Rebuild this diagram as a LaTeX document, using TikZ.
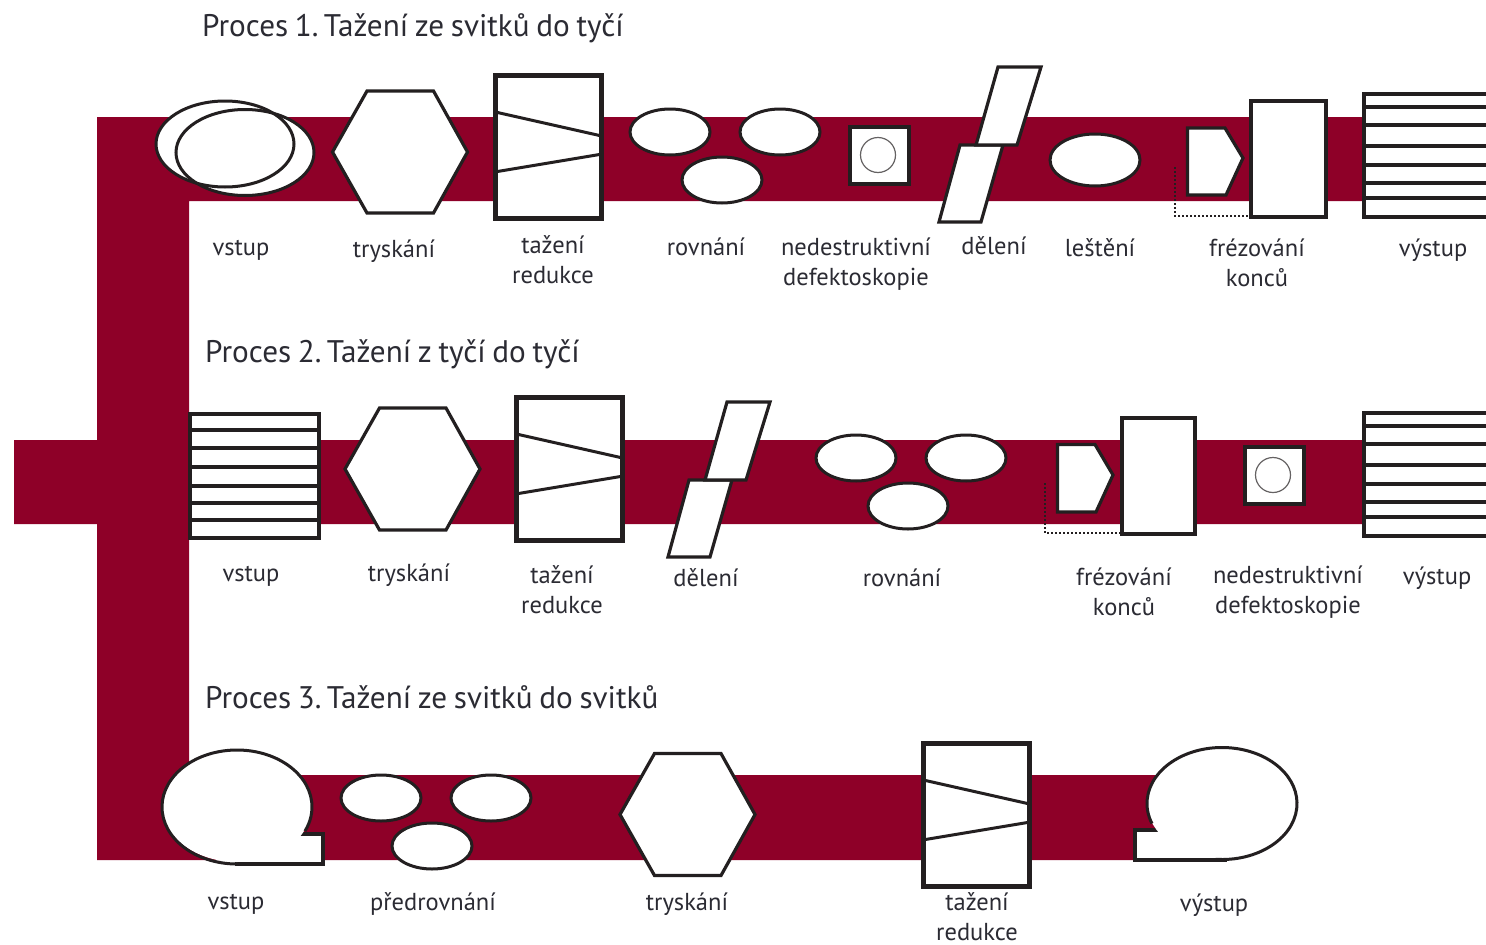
\documentclass[tikz,border=0pt]{standalone}
\usepackage{fontspec}
\setmainfont[WordSpace=0.8]{PT Sans}
\usetikzlibrary{shapes.geometric}
\definecolor{band}{HTML}{8E0028}
\definecolor{ink}{HTML}{231F20}
\definecolor{txt}{HTML}{2B2B33}
\tikzset{
  x=1pt,y=-1pt,
  thick line/.style={draw=ink,line width=4.5pt,fill=white,miter limit=10},
  mid line/.style={draw=ink,line width=3.2pt,fill=white,line join=miter},
  thin line/.style={draw=ink,line width=3pt},
  oval/.style={shape=ellipse,draw=ink,line width=3pt,fill=white,inner sep=0pt,minimum width=80pt,minimum height=46pt},
  lab/.style={text=txt,anchor=base,align=center,inner sep=0pt,font=\fontsize{24.5}{30}\selectfont},
  ttl/.style={text=txt,anchor=base west,inner sep=0pt,font=\fontsize{31.2}{34}\selectfont},
  dots/.style={draw=ink,line width=2pt,dash pattern=on 2pt off 2pt},
}
% hexagon centred on (#1,#2)
\newcommand{\hexshape}[2]{\draw[mid line,shift={(#1,#2)}] (-67.5,0) -- (-33,-61) -- (33.5,-61) -- (67.5,0) -- (33.5,61) -- (-33,61) -- cycle;}
% drawing die: top-left corner (#1,#2)
\newcommand{\dieshape}[2]{\begin{scope}[shift={(#1,#2)}]
  \draw[thick line] (0,0) rectangle (106,143);
  \draw[thin line] (2,37) -- (104,60);
  \draw[thin line] (2,96) -- (104,79);
\end{scope}}
% three ovals
\newcommand{\threeovals}[7]{%
  \node[oval] (#7a) at (#1,#2) {};
  \node[oval] (#7b) at (#3,#4) {};
  \node[oval] (#7c) at (#5,#6) {};}
% cutting
\newcommand{\cutshape}[2]{\begin{scope}[shift={(#1,#2)}]
  \draw[mid line] (-21,78) -- (22,78) -- (0,155) -- (-42,155) -- cycle;
  \draw[mid line] (17,0) -- (60,0) -- (36,78) -- (-5,78) -- cycle;
\end{scope}}
% inspection
\newcommand{\ndtshape}[2]{\begin{scope}[shift={(#1,#2)}]
  \draw[thick line] (0,0) rectangle (59,57);
  \draw[draw=ink!70,line width=1.2pt] (28,28) circle[radius=17.5pt];
\end{scope}}
% bar bundle: left edge (#1), top (#2)
\newcommand{\barsout}[2]{%
  \fill[white] (#1,#2) rectangle (1486,#2+123);
  \draw[thick line,fill=none] (1486,#2) -- (#1,#2) -- (#1,#2+123) -- (1486,#2+123);
  \foreach \dy in {13,31,52,71,89,104} {\draw[draw=ink,line width=4pt] (#1,#2+\dy) -- (1486,#2+\dy);}}
\begin{document}
\begin{tikzpicture}
\useasboundingbox (0,0) rectangle (1486,945);
\fill[white] (0,0) rectangle (1486,945);
% bands
\fill[band] (97,117) -- (1366,117) -- (1366,201) -- (189,201) -- (189,440) -- (1366,440) -- (1366,524) -- (189,524)
  -- (189,775) -- (1160,775) -- (1160,860) -- (97,860) -- (97,524) -- (14,524) -- (14,440) -- (97,440) -- cycle;

% titles
\node[ttl] (t1) at (202,36) {Proces 1.\hspace{-4pt} Tažení ze svitků do tyčí};
\node[ttl] (t2) at (205,362) {Proces 2.\hspace{-4pt} Tažení z tyčí do tyčí};
\node[ttl] (t3) at (205,708) {Proces 3.\hspace{-4pt} Tažení ze svitků do svitků};

% ---------- process 1
\fill[white] (225,144) ellipse[x radius=69pt,y radius=43pt];
\fill[white] (245,152.5) ellipse[x radius=69pt,y radius=43pt];
\node[oval,fill=none,minimum width=138pt,minimum height=86pt] (p1coila) at (225,144) {};
\node[oval,fill=none,minimum width=138pt,minimum height=86pt] (p1coilb) at (245,152.5) {};
\hexshape{400}{152}
\dieshape{495.5}{75.5}
\threeovals{670}{132}{780}{132}{722}{180}{pa}
\ndtshape{850}{127}
\cutshape{981}{67}
\node[oval,minimum width=90pt,minimum height=52pt] (p1pol) at (1095,160) {};
\draw[mid line,line join=miter] (1187.5,128) -- (1225,128) -- (1243,158) -- (1226,195) -- (1187.5,195) -- cycle;
\draw[thick line,line width=4pt] (1251,101) rectangle (1326,217);
\coordinate (d1a) at (1175,167);
\coordinate (d1b) at (1175,216);
\coordinate (d1c) at (1250,216);
\draw[dots] (d1a) -- (d1b) -- (d1c);
\barsout{1364}{94}

\node[lab] (l1a) at (241,255) {vstup};
\node[lab] (l1b) at (394,257) {tryskání};
\node[lab] (l1c) at (553,283) {tažení\\redukce};
\node[lab] (l1d) at (706,255) {rovnání};
\node[lab] (l1e) at (856,285) {nedestruktivní\\defektoskopie};
\node[lab] (l1f) at (994,254) {dělení};
\node[lab] (l1g) at (1100,256) {leštění};
\node[lab] (l1h) at (1257,286) {frézování\\konců};
\node[lab] (l1i) at (1433,256) {výstup};

% ---------- process 2
\draw[thick line] (190,414) rectangle (319,538);
\foreach \yy in {430,448,467,486,503,520} {\draw[draw=ink,line width=4pt] (190,\yy) -- (319,\yy);}
\hexshape{412.5}{469}
\dieshape{516.5}{397.5}
\cutshape{710}{402}
\threeovals{856}{458}{966}{458}{908}{506}{pb}
\draw[mid line] (1057.5,444.5) -- (1095,444.5) -- (1113,475) -- (1096,512) -- (1057.5,512) -- cycle;
\draw[thick line] (1122,418) rectangle (1195,534);
\coordinate (d2a) at (1045,483);
\coordinate (d2b) at (1045,533);
\coordinate (d2c) at (1120,533);
\draw[dots] (d2a) -- (d2b) -- (d2c);
\ndtshape{1245}{447}
\barsout{1364}{413}

\node[lab] (l2a) at (251,581) {vstup};
\node[lab] (l2b) at (409,581) {tryskání};
\node[lab] (l2c) at (562,613) {tažení\\redukce};
\node[lab] (l2d) at (706,586) {dělení};
\node[lab] (l2e) at (902,586) {rovnání};
\node[lab] (l2f) at (1124,615) {frézování\\konců};
\node[lab] (l2g) at (1288,613) {nedestruktivní\\defektoskopie};
\node[lab] (l2h) at (1437,584) {výstup};

% ---------- process 3
\draw[thick line,line width=3.6pt] (300,834) -- (323,834) -- (323,864) -- (235,864);
\fill[white] (237,806) ellipse[x radius=75pt,y radius=56pt];
\fill[white] (240,836) rectangle (321,862);
\draw[thin line] (237,807) ++(-85:75pt and 57pt) arc[start angle=-85,end angle=-385,x radius=75pt,y radius=57pt];
\threeovals{381}{798}{491}{798}{432}{846}{pc}
\hexshape{687.5}{814.5}
\dieshape{923.5}{743.5}
\draw[thick line,line width=3.6pt] (1158,830) -- (1135,830) -- (1135,860) -- (1227,860);
\fill[white] (1222,803) ellipse[x radius=75pt,y radius=55pt];
\fill[white] (1137,832) rectangle (1220,858);
\draw[thin line] (1222,803.5) ++(-95:75pt and 56pt) arc[start angle=-95,end angle=201,x radius=75pt,y radius=56pt];

\node[lab] (l3a) at (236,909) {vstup};
\node[lab] (l3b) at (433,910) {předrovnání};
\node[lab] (l3c) at (687,910) {tryskání};
\node[lab] (l3d) at (977,940) {tažení\\redukce};
\node[lab] (l3e) at (1214,911) {výstup};
\end{tikzpicture}
\end{document}
